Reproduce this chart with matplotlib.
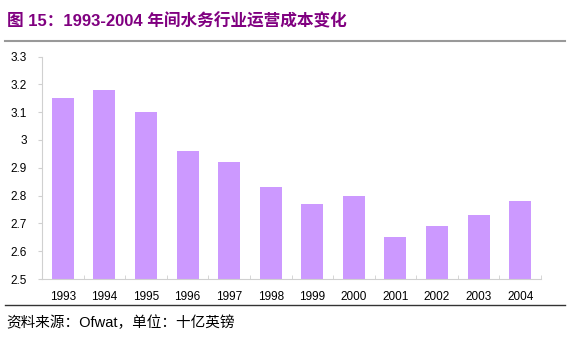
import matplotlib.pyplot as plt
import numpy as np
from matplotlib.lines import Line2D

plt.rcParams['font.family'] = ['Liberation Sans', 'Noto Sans CJK SC', 'DejaVu Sans']

years = ['1993', '1994', '1995', '1996', '1997', '1998', '1999', '2000', '2001', '2002', '2003', '2004']
cost = [3.15, 3.18, 3.10, 2.96, 2.92, 2.83, 2.77, 2.80, 2.65, 2.69, 2.73, 2.78]
yticks = [2.5, 2.6, 2.7, 2.8, 2.9, 3.0, 3.1, 3.2, 3.3]
ytick_labels = ['2.5', '2.6', '2.7', '2.8', '2.9', '3', '3.1', '3.2', '3.3']

title = '图 15：1993-2004 年间水务行业运营成本变化'
source = '资料来源：Ofwat，单位：十亿英镑'

W, H = 570, 346
fig = plt.figure(figsize=(W / 100, H / 100), dpi=100)
ax = fig.add_axes([42 / W, 1 - 279 / H, (541 - 42) / W, (279 - 56.5) / H])

x = np.arange(len(years))
ax.bar(x, cost, width=0.53, color='#CC99FF', bottom=0)
ax.set_xlim(-0.5, len(years) - 0.5)
ax.set_ylim(2.5, 3.3)
ax.set_yticks(yticks)
ax.set_yticklabels(ytick_labels)
ax.set_xticks(x)
ax.set_xticklabels(years)
ax.set_xticks(np.arange(len(years) + 1) - 0.5, minor=True)

for s in ['top', 'right']:
    ax.spines[s].set_visible(False)
ax.spines['left'].set_color('#D0D0D0')
ax.spines['bottom'].set_color('#D0D0D0')
ax.tick_params(axis='y', labelsize=8.5, length=3, color='#D0D0D0', pad=8)
ax.tick_params(axis='x', which='major', labelsize=8.5, length=0, pad=9)
ax.tick_params(axis='x', which='minor', length=3, direction='in', color='#D0D0D0')

fig.text(7 / W, 1 - 21 / H, title, color='#800080', fontsize=12, fontweight='bold', va='center', ha='left')
fig.add_artist(Line2D([5 / W, 565 / W], [1 - 41 / H, 1 - 41 / H], color='#999999', lw=1.5))
fig.add_artist(Line2D([5 / W, 565 / W], [1 - 305 / H, 1 - 305 / H], color='#333333', lw=1))
fig.text(6 / W, 1 - 323 / H, source, color='#000000', fontsize=10.5, va='center', ha='left')

fig.savefig('out.png', dpi=100)
